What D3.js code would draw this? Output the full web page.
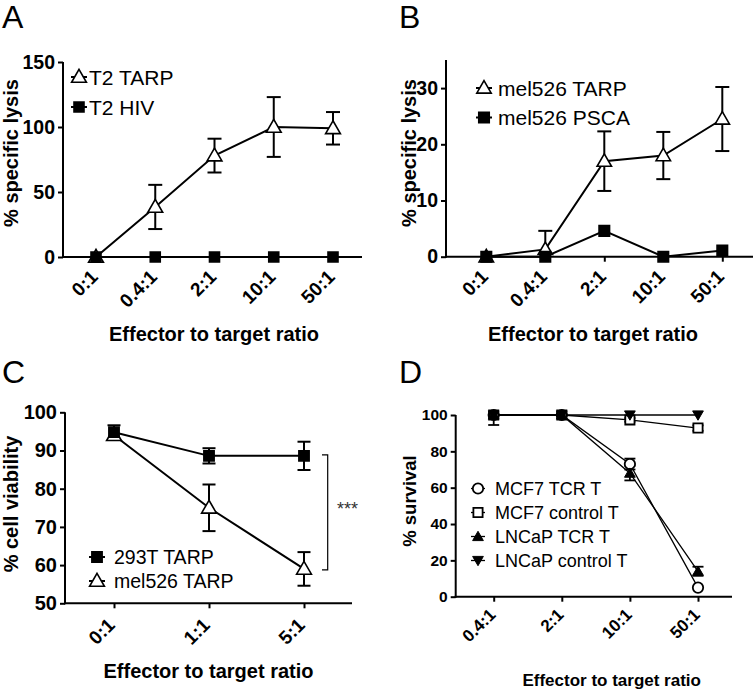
<!DOCTYPE html>
<html><head><meta charset="utf-8">
<script src="https://cdn.jsdelivr.net/npm/d3@7"></script>
<style>
html,body{margin:0;padding:0;background:#fff;}
svg{display:block;font-family:"Liberation Sans",Arial,Helvetica,sans-serif;}
</style></head>
<body>
<svg id="chart" width="756" height="693"></svg>
<script>
// ---------- DATA ----------
const catsA = ["0:1","0.4:1","2:1","10:1","50:1"];
const t2Tarp = [0, 38.5, 78, 100, 99];
const t2TarpErr = [0, 17, 13, 23, 12.5];
const t2Hiv = [0, 0, 0, 0, 0];
const ticksA = [0, 50, 100, 150];

const catsB = ["0:1","0.4:1","2:1","10:1","50:1"];
const mel526TarpB = [0, 1.3, 17, 18, 24.5];
const mel526TarpBErr = [0, 3.3, 5.3, 4.2, 5.7];
const mel526PscaB = [0, 0, 4.6, 0, 1.1];
const ticksB = [0, 10, 20, 30];

const catsC = ["0:1","1:1","5:1"];
const t293TarpC = [94.8, 88.6, 88.6];
const t293TarpCErr = [1.8, 2.0, 3.7];
const mel526TarpC = [94, 75, 59];
const mel526TarpCErr = [0, 6.1, 4.4];
const ticksC = [50, 60, 70, 80, 90, 100];

const catsD = ["0.4:1","2:1","10:1","50:1"];
const mcf7TcrD = [100, 100, 73, 5];
const mcf7TcrDErr = [5.5, 0, 3, 0];
const mcf7CtrlD = [100, 100, 97.3, 92.8];
const mcf7CtrlDErr = [0, 0, 1, 1.5];
const lncapTcrD = [100, 100, 68, 14];
const lncapTcrDErr = [0, 0, 4, 2.5];
const lncapCtrlD = [100, 100, 100, 100];
const ticksD = [0, 20, 40, 60, 80, 100];

// ---------- DRAW ----------
const svg = d3.select("#chart");

function sym(type, size) {
  return d3.symbol().type(type).size(size)();
}

function panel(c) {
  const g = svg.append("g");
  const x = d3.scalePoint().domain(c.cats).range(c.catRange);
  const y = d3.scaleLinear().domain(c.yDomain).range(c.yRange);
  const y0 = y(c.yDomain[0]);

  g.append("text").attr("x", c.letterPos[0]).attr("y", c.letterPos[1])
    .attr("font-size", 32).text(c.letter);

  // y axis
  const ya = d3.axisLeft(y).tickValues(c.yTicks).tickSize(5).tickPadding(3);
  const yg = g.append("g").attr("transform", `translate(${c.axisX},0)`).call(ya);
  yg.select(".domain").remove();
  yg.selectAll(".tick line").attr("stroke", "#000").attr("stroke-width", 2);
  yg.selectAll(".tick text").attr("font-size", c.tickFont).attr("font-weight", "bold")
    .attr("fill", "#000").attr("font-family", "inherit");
  g.append("line").attr("x1", c.axisX).attr("x2", c.axisX)
    .attr("y1", y0 + 1).attr("y2", y(c.yDomain[1]))
    .attr("stroke", "#000").attr("stroke-width", 2);

  // x axis
  const xa = d3.axisBottom(x).tickSize(5).tickFormat("");
  const xg = g.append("g").attr("transform", `translate(0,${y0})`).call(xa);
  xg.select(".domain").remove();
  xg.selectAll(".tick line").attr("stroke", "#000").attr("stroke-width", 2);
  g.append("line").attr("x1", c.axisX - 1).attr("x2", c.axisEnd)
    .attr("y1", y0).attr("y2", y0).attr("stroke", "#000").attr("stroke-width", 2);
  g.selectAll(".xl").data(c.cats).enter().append("text")
    .attr("transform", d => `translate(${x(d) + c.xLabOff[0]},${y0 + c.xLabOff[1]}) rotate(-45)`)
    .attr("text-anchor", "end").attr("font-size", c.xTickFont).attr("font-weight", "bold")
    .text(d => d);

  // titles
  g.append("text").attr("x", c.xTitle[0]).attr("y", c.xTitle[1]).attr("text-anchor", "middle")
    .attr("font-size", c.titleFont).attr("font-weight", "bold").text("Effector to target ratio");
  g.append("text").attr("transform", `translate(${c.yTitle[0]},${c.yTitle[1]}) rotate(-90)`)
    .attr("text-anchor", "middle").attr("font-size", c.yTitleFont || c.titleFont)
    .attr("font-weight", "bold").text(c.yLabel);

  // series lines
  c.series.forEach(s => {
    const line = d3.line().x((d, i) => x(c.cats[i])).y(d => y(d));
    g.append("path").attr("d", line(s.values)).attr("fill", "none")
      .attr("stroke", "#000").attr("stroke-width", c.lineW);
  });
  // error bars
  c.series.forEach(s => {
    if (!s.errs) return;
    s.values.forEach((v, i) => {
      const e = s.errs[i];
      if (!e) return;
      const cx = x(c.cats[i]);
      const ends = [];
      if (!(c.clipTop && v + e > c.yDomain[1])) ends.push(v + e);
      if (v - e >= c.yDomain[0]) ends.push(v - e);
      const lo = Math.max(v - e, c.yDomain[0]);
      const hi = c.clipTop ? Math.min(v + e, c.yDomain[1]) : v + e;
      g.append("line").attr("x1", cx).attr("x2", cx).attr("y1", y(lo)).attr("y2", y(hi))
        .attr("stroke", "#000").attr("stroke-width", c.errW);
      ends.forEach(t => {
        g.append("line").attr("x1", cx - c.capW / 2).attr("x2", cx + c.capW / 2)
          .attr("y1", y(t)).attr("y2", y(t)).attr("stroke", "#000").attr("stroke-width", c.errW);
      });
    });
  });
  // markers
  c.series.forEach(s => {
    s.values.forEach((v, i) => {
      g.append("path").attr("d", sym(s.type, s.size))
        .attr("transform", `translate(${x(c.cats[i])},${y(v) + (s.dy || 0)}) rotate(${s.rot || 0})`)
        .attr("fill", s.fill).attr("stroke", "#000").attr("stroke-width", s.sw || 1.6);
    });
  });
  // legend
  c.legend.forEach((L, k) => {
    const s = c.series[L.idx];
    const ly = c.legPos[1] + k * c.legStep;
    g.append("line").attr("x1", c.legPos[0] - c.legLine).attr("x2", c.legPos[0] + c.legLine)
      .attr("y1", ly).attr("y2", ly).attr("stroke", "#000").attr("stroke-width", c.lineW);
    g.append("path").attr("d", sym(s.type, s.size))
      .attr("transform", `translate(${c.legPos[0]},${ly + (s.dy || 0)}) rotate(${s.rot || 0})`)
      .attr("fill", s.fill).attr("stroke", "#000").attr("stroke-width", s.sw || 1.6);
    g.append("text").attr("x", c.legText).attr("y", ly).attr("dy", "0.36em")
      .attr("font-size", c.legFont).text(L.label);
  });
  return {g, x, y};
}

// Panel A
panel({
  letter: "A", letterPos: [2, 28],
  cats: catsA, catRange: [96, 333], axisX: 63, axisEnd: 362,
  yDomain: [0, 150], yRange: [257, 62], yTicks: ticksA,
  tickFont: 19.5, xTickFont: 19, titleFont: 20, xLabOff: [3, 21],
  xTitle: [214, 341], yTitle: [18, 153], yLabel: "% specific lysis",
  lineW: 2, errW: 2, capW: 14,
  series: [
    {values: t2Tarp, errs: t2TarpErr, type: d3.symbolTriangle, size: 95, fill: "#fff", dy: 1},
    {values: t2Hiv, type: d3.symbolSquare, size: 100, fill: "#000"}
  ],
  legend: [{idx: 0, label: "T2 TARP"}, {idx: 1, label: "T2 HIV"}],
  legPos: [79, 77], legStep: 30, legLine: 8, legText: 89, legFont: 21
});

// Panel B
panel({
  letter: "B", letterPos: [399, 28],
  cats: catsB, catRange: [486.3, 722.3], axisX: 446, axisEnd: 753,
  yDomain: [0, 35], yRange: [256.7, 60], yTicks: ticksB,
  tickFont: 19.5, xTickFont: 19, titleFont: 20, xLabOff: [3, 21],
  xTitle: [593, 341], yTitle: [416, 153], yLabel: "% specific lysis",
  lineW: 2, errW: 2, capW: 14,
  series: [
    {values: mel526TarpB, errs: mel526TarpBErr, type: d3.symbolTriangle, size: 90, fill: "#fff", dy: 1},
    {values: mel526PscaB, type: d3.symbolSquare, size: 110, fill: "#000"}
  ],
  legend: [{idx: 0, label: "mel526 TARP"}, {idx: 1, label: "mel526 PSCA"}],
  legPos: [484, 88], legStep: 29.5, legLine: 8, legText: 498, legFont: 21
});

// Panel C
const pc = panel({
  letter: "C", letterPos: [2, 383],
  cats: catsC, catRange: [114, 304], axisX: 65, axisEnd: 352,
  yDomain: [50, 100], yRange: [603.3, 412.3], yTicks: ticksC,
  tickFont: 20, xTickFont: 19, titleFont: 20, xLabOff: [2, 23],
  xTitle: [208.5, 678], yTitle: [18, 504], yLabel: "% cell viability",
  lineW: 2, errW: 2, capW: 13,
  series: [
    {values: mel526TarpC, errs: mel526TarpCErr, type: d3.symbolTriangle, size: 95, fill: "#fff", dy: 1},
    {values: t293TarpC, errs: t293TarpCErr, type: d3.symbolSquare, size: 105, fill: "#000"}
  ],
  legend: [{idx: 1, label: "293T TARP"}, {idx: 0, label: "mel526 TARP"}],
  legPos: [97, 557], legStep: 24, legLine: 8, legText: 114, legFont: 19.5
});
// significance bracket
(function() {
  const g = pc.g, y = pc.y;
  const bx = 327.7, bl = 322;
  const yt = y(t293TarpC[2]) - 1, yb = y(mel526TarpC[2]) + 1;
  g.append("path").attr("d", `M${bl},${yt}H${bx}V${yb}H${bl}`)
    .attr("fill", "none").attr("stroke", "#000").attr("stroke-width", 1.2);
  g.append("text").attr("x", 337).attr("y", 515).attr("font-size", 18).attr("fill", "#333").text("***");
})();

// Panel D
panel({
  letter: "D", letterPos: [399, 383],
  cats: catsD, catRange: [493.7, 698], axisX: 455.7, axisEnd: 732,
  yDomain: [0, 100], yRange: [596.7, 415], yTicks: ticksD, clipTop: true,
  tickFont: 15.5, xTickFont: 17, titleFont: 17, yTitleFont: 18.5, xLabOff: [3, 19],
  xTitle: [611.7, 686], yTitle: [416, 501], yLabel: "% survival",
  lineW: 1.3, errW: 1.8, capW: 11,
  series: [
    {values: mcf7TcrD, errs: mcf7TcrDErr, type: d3.symbolCircle, size: 85, fill: "#fff", sw: 1.8},
    {values: mcf7CtrlD, errs: mcf7CtrlDErr, type: d3.symbolSquare, size: 85, fill: "#fff", sw: 1.8},
    {values: lncapTcrD, errs: lncapTcrDErr, type: d3.symbolTriangle, size: 50, fill: "#000", sw: 1, dy: 1},
    {values: lncapCtrlD, type: d3.symbolTriangle, size: 50, fill: "#000", sw: 1, rot: 180, dy: -1}
  ],
  legend: [{idx: 0, label: "MCF7 TCR T"}, {idx: 1, label: "MCF7 control T"},
           {idx: 2, label: "LNCaP TCR T"}, {idx: 3, label: "LNCaP control T"}],
  legPos: [478, 488.5], legStep: 24, legLine: 7, legText: 495, legFont: 18
});
</script>
</body></html>
